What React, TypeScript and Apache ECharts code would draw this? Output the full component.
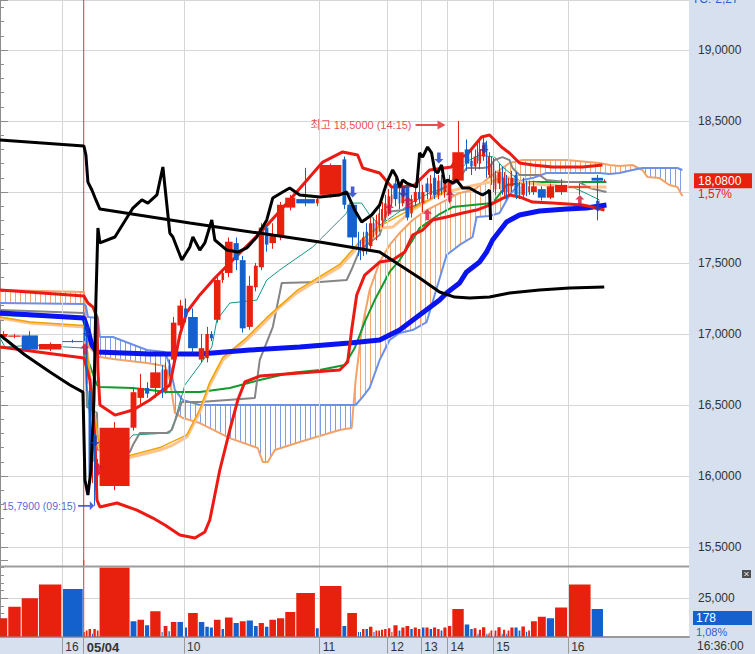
import React, { useEffect, useRef } from 'react';
import * as echarts from 'echarts';

// ---------- DATA ----------
// Equivolume candles: [volume (thousand shares), open, high, low, close]
const candles: number[][] = [
  [12, 16.98, 17.02, 16.96, 17.0], [19.5, 16.98, 17.0, 16.97, 16.99], [25, 16.99, 17.02, 16.88, 16.89],
  [34, 16.89, 16.94, 16.88, 16.93], [31, 16.95, 16.96, 16.94, 16.945],
  [3, 17.05, 17.1, 16.95, 16.97], [4, 16.97, 17.0, 16.6, 16.65], [5, 16.6, 16.62, 15.98, 16.0],
  [2, 16.05, 16.3, 15.95, 16.27], [5, 16.27, 16.3, 15.79, 16.1], [4, 16.0, 16.12, 15.85, 16.09],
  [45, 15.93, 16.38, 15.9, 16.34],
  [10, 16.34, 16.62, 16.32, 16.59], [11, 16.55, 16.72, 16.5, 16.62], [7.5, 16.62, 16.66, 16.55, 16.58],
  [16.5, 16.62, 16.8, 16.55, 16.73], [3, 16.75, 16.78, 16.55, 16.6], [7, 16.6, 16.8, 16.58, 16.75],
  [3.5, 16.78, 16.82, 16.7, 16.72], [9.5, 16.82, 17.12, 16.8, 17.08], [9.5, 17.06, 17.24, 17.04, 17.2],
  [6, 17.18, 17.25, 17.08, 17.12], [15.5, 17.12, 17.18, 16.87, 16.9], [9.5, 16.82, 17.0, 16.8, 16.9],
  [6.5, 16.83, 17.05, 16.8, 17.0], [6, 17.0, 17.02, 16.95, 16.97], [11, 17.1, 17.4, 17.08, 17.38],
  [5, 17.38, 17.45, 17.36, 17.43], [12.5, 17.43, 17.68, 17.4, 17.65], [9, 17.64, 17.68, 17.45, 17.52],
  [10, 17.52, 17.55, 17.01, 17.04], [10.5, 17.05, 17.41, 17.03, 17.34], [7, 17.33, 17.5, 17.3, 17.48],
  [9, 17.47, 17.78, 17.45, 17.75], [6.5, 17.75, 17.76, 17.58, 17.63], [11, 17.64, 17.78, 17.6, 17.69],
  [12, 17.69, 17.93, 17.66, 17.91], [16, 17.89, 17.98, 17.87, 17.96], [28.5, 17.95, 18.17, 17.9, 17.92],
  [5.5, 17.92, 17.97, 17.9, 17.95], [33, 17.98, 18.2, 17.96, 18.19], [7, 18.23, 18.25, 17.88, 17.91],
  [15.5, 17.91, 17.93, 17.61, 17.68],
  [3, 17.68, 17.72, 17.55, 17.62], [3, 17.62, 17.66, 17.52, 17.58], [5, 17.58, 17.72, 17.55, 17.68],
  [5, 17.72, 17.78, 17.56, 17.6], [6.5, 17.62, 17.82, 17.6, 17.78], [3, 17.78, 17.82, 17.68, 17.72],
  [4, 17.7, 17.84, 17.66, 17.8], [4, 17.76, 17.9, 17.72, 17.85], [4.5, 17.8, 17.93, 17.75, 17.88],
  [5, 17.82, 17.98, 17.8, 17.92], [5.5, 17.85, 18.02, 17.83, 17.97], [3, 17.92, 18.05, 17.9, 17.98],
  [7.5, 18.06, 18.1, 17.9, 17.95],
  [4, 18.0, 18.05, 17.88, 17.92], [6, 17.92, 18.06, 17.9, 18.02], [7, 18.04, 18.07, 17.8, 17.82],
  [5, 17.85, 17.98, 17.82, 17.95], [6, 17.93, 18.04, 17.9, 18.0], [5, 18.0, 18.1, 17.92, 17.95],
  [6, 17.92, 18.05, 17.86, 18.0], [6, 18.06, 18.1, 17.95, 18.0], [5, 17.98, 18.12, 17.95, 18.06],
  [6, 18.1, 18.2, 17.95, 17.98], [5, 17.98, 18.12, 17.95, 18.08], [4, 18.08, 18.12, 17.98, 18.0],
  [6, 18.0, 18.1, 17.96, 18.06], [7, 17.98, 18.12, 17.92, 18.08],
  [18, 18.08, 18.5, 18.06, 18.28], [8, 18.3, 18.37, 18.15, 18.2], [5, 18.22, 18.3, 18.12, 18.18],
  [5.5, 18.18, 18.3, 18.15, 18.25],
  [2, 18.28, 18.35, 18.2, 18.22], [4.6, 18.2, 18.36, 18.16, 18.3], [6.2, 18.25, 18.38, 18.22, 18.33],
  [2, 18.33, 18.36, 18.1, 18.2], [1.5, 18.15, 18.25, 18.12, 18.22], [2.6, 18.18, 18.28, 18.1, 18.24],
  [4, 18.1, 18.25, 18.05, 18.2], [2, 18.2, 18.24, 18.0, 18.05], [4, 18.02, 18.15, 17.98, 18.12],
  [6.2, 18.06, 18.2, 18.02, 18.14], [2, 18.14, 18.18, 17.98, 18.02], [4.6, 18.0, 18.14, 17.96, 18.1],
  [2, 18.1, 18.12, 17.95, 18.0], [4, 18.0, 18.1, 17.97, 18.06], [6, 18.04, 18.15, 18.0, 18.1],
  [6, 18.12, 18.14, 17.95, 17.98], [4, 18.04, 18.07, 17.95, 17.98], [6.6, 17.98, 18.1, 17.96, 18.06],
  [3.3, 18.06, 18.08, 17.97, 18.0], [4, 18.0, 18.08, 17.98, 18.04],
  [10, 18.0, 18.08, 17.98, 18.04], [13, 18.02, 18.04, 17.94, 17.96], [12, 17.96, 18.06, 17.95, 18.04],
  [19, 18.0, 18.09, 17.98, 18.05], [34, 18.03, 18.06, 17.98, 18.04], [18, 18.1, 18.12, 17.8, 18.08],
  [0.178, 18.08, 18.09, 18.07, 18.08],
];
// volume bar colour per candle: r = red, b = blue
const volumeSide =
  'rrrrb' + 'rrrbrr' + 'r' + 'brbrbrb' + 'rbb' + 'rbbb' + 'rbrb' + 'rbbrb' + 'rrrr' + 'brbr' +
  'bbrbrbrrrrrr' + 'r' + 'brrbrrbrbrrbrr' + 'rbbr' + 'brrbrrrbrrbrbrrbbrbr' + 'rrbrrbb';
// hour marks: [candle index where the hour starts, label]
const hourMarks: [number, string][] = [
  [4, '16'], [5, '05/04'], [21, '10'], [40, '11'], [53, '12'], [62, '13'], [69, '14'], [81, '15'], [98, '16'],
];
const sessionStart = 5; // candle index of the 05/04 session open
const buySignals: [number, number][] = [[5, 16.894], [10, 16.049], [53, 17.88], [58, 17.93], [63, 17.84], [69, 17.97], [98, 17.94]];
const sellSignals: [number, number][] = [[6, 17.014], [9, 16.246], [42, 18.0], [57, 18.0], [66, 18.239], [76, 18.31], [99, 17.9]];
const highMark = { idx: 70, price: 18.5, time: '14:15' };
const lowMark = { idx: 9, price: 15.79, time: '09:15' };
const lastPrice = 18.08;
const lastPct = '1,57%';
const volPct = '1,08%';
const clock = '16:36:00';
const topInfo = 'TC:-2,27';

// indicator lines: [cumulative volume (k), price]
const blackA = [[0, 18.366], [121.8, 18.324], [124.7, 18.26], [127.6, 18.07], [133.4, 18.014], [139.2, 17.944], [145, 17.88], [275.5, 17.782], [464, 17.648], [551, 17.577], [580, 17.486], [609, 17.394], [638, 17.296], [659.8, 17.26], [681.5, 17.253], [710.5, 17.26], [739.5, 17.289], [783, 17.31], [826.5, 17.324], [877, 17.331]];
const blackB = [[0, 16.993], [36.3, 16.852], [72.5, 16.732], [101.5, 16.641], [120.4, 16.591], [123.3, 15.972], [127.6, 15.866], [132, 16.042], [136.3, 16.535], [139.2, 17.239], [142.1, 17.746], [145, 17.641], [166.8, 17.683], [192.9, 17.887], [205.9, 17.944], [214.6, 17.922], [227.7, 17.979], [236.4, 18.176], [246.5, 17.711], [250.9, 17.683], [263.9, 17.521], [275.5, 17.613], [279.9, 17.683], [290, 17.591], [297.3, 17.641], [307.4, 17.803], [311.8, 17.662], [329.2, 17.591], [345.1, 17.577], [358.2, 17.606], [372.7, 17.683], [387.2, 17.803], [395.9, 17.958], [410.4, 18.0], [420.5, 18.028], [435, 17.979], [464, 17.965], [493, 17.979], [503.2, 18.0], [514.8, 17.873], [524.9, 17.789], [539.4, 17.838], [551, 17.908], [561.2, 18.063], [569.9, 18.155], [575.7, 18.106], [580, 18.035], [584.4, 18.084], [590.2, 18.063], [604.7, 18.035], [609, 18.275], [613.4, 18.246], [620.6, 18.317], [626.4, 18.275], [630.8, 18.155], [635.1, 18.134], [640.9, 18.19], [645.3, 18.063], [649.6, 18.084], [656.9, 18.063], [662.7, 18.084], [671.4, 18.028], [681.5, 18.028], [691.7, 18.0], [700.4, 17.979], [707.6, 18.0], [710.5, 18.014], [712, 17.803]];
const blueMA = [[0, 17.148], [121.8, 17.113], [127.6, 17.028], [133.4, 16.922], [140.7, 16.873], [217.5, 16.859], [290, 16.859], [362.5, 16.887], [435, 16.908], [507.5, 16.937], [551, 16.958], [580, 17.028], [609, 17.134], [638, 17.239], [648.2, 17.289], [667, 17.359], [677.2, 17.437], [696, 17.507], [706.2, 17.577], [714.9, 17.662], [735.2, 17.789], [754, 17.838], [783, 17.866], [822.2, 17.88], [851.2, 17.887], [880.2, 17.908]];
const upperBand = [[0, 17.31], [121.8, 17.267], [127.6, 17.218], [134.9, 17.19], [140.7, 17.12], [142.1, 16.746], [145, 16.5], [166.8, 16.429], [192.9, 16.465], [217.5, 16.535], [236.4, 16.606], [246.5, 16.641], [261, 16.993], [271.2, 17.155], [290, 17.275], [311.8, 17.394], [333.5, 17.5], [381.4, 17.732], [420.5, 17.944], [468.4, 18.211], [497.4, 18.282], [519.1, 18.26], [526.4, 18.169], [551, 18.134], [568.4, 18.035], [584.4, 18.035], [601.8, 18.049], [623.5, 18.155], [655.4, 18.176], [662.7, 18.239], [677.2, 18.26], [698.9, 18.387], [710.5, 18.401], [727.9, 18.317], [739.5, 18.275], [754, 18.204], [772.9, 18.19], [801.9, 18.176], [845.4, 18.176], [874.4, 18.19]];
const lowerBand = [[0, 16.908], [121.8, 16.831], [130.5, 16.676], [137.8, 16.275], [140.7, 15.831], [145, 15.782], [169.7, 15.81], [198.7, 15.76], [221.9, 15.704], [239.3, 15.655], [261, 15.584], [282.8, 15.563], [297.3, 15.606], [304.5, 15.69], [308.9, 15.796], [319, 16.042], [333.5, 16.324], [345.1, 16.535], [355.3, 16.662], [377, 16.704], [435, 16.725], [493, 16.746], [504.6, 16.803], [510.4, 17.028], [517.7, 17.275], [529.3, 17.415], [551, 17.507], [569.9, 17.521], [587.3, 17.577], [598.9, 17.697], [613.4, 17.732], [627.9, 17.803], [648.2, 17.824], [671.4, 17.852], [691.7, 17.873], [710.5, 17.908], [725, 17.944], [739.5, 17.979], [754, 17.965], [772.9, 17.929], [801.9, 17.922], [845.4, 17.908], [859.9, 17.894], [877.3, 17.873]];
const greyLine = [[0, 17.169], [121.8, 17.148], [124.7, 16.817], [126.2, 16.486], [140.7, 16.444], [142.1, 16.183], [188.5, 16.169], [192.9, 16.218], [203, 16.303], [242.2, 16.303], [249.4, 16.324], [263.9, 16.521], [290, 16.521], [369.8, 16.549], [377, 16.817], [395.9, 17.049], [406, 17.289], [408.9, 17.359], [464, 17.366], [503.2, 17.38], [511.9, 17.472], [522, 17.591], [551, 17.697], [561.2, 17.859], [584.4, 17.873], [597.4, 17.894], [623.5, 17.944], [638, 18.014], [662.7, 18.07], [677.2, 18.169], [700.4, 18.169], [710.5, 18.176], [717.8, 18.225], [729.4, 18.246], [739.5, 18.225], [743.9, 18.169], [754, 18.12], [783, 18.12], [793.2, 18.084], [822.2, 18.07], [841, 18.07], [855.5, 18.028], [880.2, 18.0]];
const greenLine = [[0, 17.134], [121.8, 17.113], [127.6, 16.817], [140.7, 16.641], [145, 16.627], [192.9, 16.62], [242.2, 16.591], [290, 16.591], [333.5, 16.62], [377, 16.676], [420.5, 16.725], [464, 16.746], [500.3, 16.782], [514.8, 16.901], [529.3, 17.084], [543.8, 17.239], [565.5, 17.437], [580, 17.521], [598.9, 17.662], [609, 17.746], [638, 17.845], [656.9, 17.894], [685.9, 17.908], [714.9, 17.922], [735.2, 18.049], [768.5, 18.07], [880.2, 18.07]];
const tealLine = [[0, 16.972], [7.3, 16.908], [47.9, 16.922], [121.8, 16.901], [130.5, 16.394], [140.7, 16.007], [152.3, 16.042], [174, 16.183], [192.9, 16.289], [246.5, 16.303], [253.8, 16.394], [268.3, 16.641], [290, 16.782], [307.4, 16.908], [314.7, 17.098], [333.5, 17.218], [372.7, 17.239], [387.2, 17.38], [406, 17.451], [453.9, 17.613], [468.4, 17.683], [493, 17.803], [503.2, 17.852], [507.5, 17.922], [524.9, 17.922], [536.5, 17.838], [551, 17.767], [572.8, 17.838], [598.9, 17.929], [623.5, 17.993], [648.2, 18.035], [667, 18.155], [681.5, 18.225], [696, 18.26], [717.8, 18.246], [729.4, 18.176], [758.4, 18.063], [801.9, 18.049], [830.9, 18.035], [855.5, 17.979], [870, 17.944]];
const peachLine = [[0, 17.113], [43.5, 17.077], [121.8, 17.049], [127.6, 16.817], [137.8, 16.394], [140.7, 16.275], [145, 16.183], [159.5, 16.134], [184.2, 16.127], [203, 16.148], [232, 16.183], [250.9, 16.218], [271.2, 16.275], [290, 16.451], [304.5, 16.641], [323.4, 16.817], [358.2, 16.958], [387.2, 17.098], [406, 17.19], [430.7, 17.289], [468.4, 17.401], [493, 17.472], [511.9, 17.57], [524.9, 17.648], [536.5, 17.662], [551, 17.746], [569.9, 17.753], [598.9, 17.873], [627.9, 17.958], [648.2, 18.0], [677.2, 18.035], [710.5, 18.07], [735.2, 18.106], [754, 18.07], [793.2, 18.049], [822.2, 18.035], [880.2, 18.035]];
const goldLine = [[0, 17.12], [43.5, 17.085], [121.8, 17.06], [127.6, 16.83], [137.8, 16.41], [145, 16.2], [184.2, 16.14], [232, 16.2], [271.2, 16.29], [290, 16.47], [304.5, 16.66], [323.4, 16.835], [358.2, 16.975], [387.2, 17.115], [430.7, 17.305], [493, 17.49], [524.9, 17.665], [551, 17.76], [598.9, 17.885], [648.2, 18.01]];
// Ichimoku cloud (leading spans) sampled on common positions
const cloudX = [0, 121.8, 124.7, 127.6, 142.1, 145, 163.9, 213.2, 239.3, 246.5, 253.8, 265.4, 290, 333.5, 374.1, 381.4, 388.6, 398.8, 435, 493, 510.4, 516.2, 524.9, 536.5, 551, 565.5, 580, 598.9, 619.2, 648.2, 667, 685.9, 691.7, 710.5, 725, 739.5, 758.4, 772.9, 793.2, 822.2, 870, 884.5, 899, 917.9, 932.4, 939.6, 957, 971.5, 983.1, 990.4];
const spanA = [17.31, 17.296, 17.098, 16.922, 16.838, 16.838, 16.824, 16.796, 16.775, 16.676, 16.444, 16.408, 16.373, 16.267, 16.197, 16.098, 16.098, 16.183, 16.239, 16.324, 16.338, 16.676, 17.028, 17.31, 17.507, 17.627, 17.711, 17.803, 17.873, 17.944, 17.993, 18.014, 18.028, 18.106, 18.155, 18.204, 18.225, 18.225, 18.225, 18.225, 18.204, 18.19, 18.183, 18.19, 18.155, 18.106, 18.098, 18.049, 18.035, 17.972];
const spanB = [17.218, 17.211, 17.197, 17.12, 17.113, 16.979, 16.979, 16.887, 16.873, 16.782, 16.606, 16.535, 16.5, 16.5, 16.5, 16.5, 16.5, 16.5, 16.5, 16.5, 16.5, 16.5, 16.549, 16.62, 16.817, 16.958, 17.007, 17.028, 17.084, 17.556, 17.627, 17.683, 17.824, 17.831, 17.852, 17.979, 18.084, 18.098, 18.134, 18.134, 18.134, 18.127, 18.134, 18.155, 18.169, 18.169, 18.169, 18.169, 18.169, 18.155];

// ---------- STYLE ----------
const RED = '#E8200E';
const BLUE = '#1460CC';
const GRID = '#D6D6D6';
const PANEL = '#D6E0EE';
const FONT = "'Liberation Sans', 'Noto Sans CJK KR', sans-serif";
const XMAX = 1000;
const PRICE_MIN = 15.3662;
const PRICE_MAX = 19.3521;
const VOL_MAX = 50000;

const fmtPrice = (v: number) => v.toFixed(4).replace('.', ',');

const starts: number[] = [];
{
  let acc = 0;
  candles.forEach((c) => { starts.push(acc); acc += c[0]; });
}
const center = (i: number) => starts[i] + candles[i][0] / 2;
const hourX = hourMarks.map((m) => starts[m[0]]);
const sessionX = starts[sessionStart];

function buildOption(): any {
  const line = (data: number[][], color: string, width: number, z: number, xi = 0, yi = 0) => ({
    type: 'line', xAxisIndex: xi, yAxisIndex: yi, data, symbol: 'none', showSymbol: false,
    lineStyle: { color, width }, z, silent: true, clip: true,
  });

  const candleSeries = {
    type: 'custom', xAxisIndex: 0, yAxisIndex: 0, z: 7, clip: true, silent: true,
    data: candles.map((c, i) => [starts[i], starts[i] + c[0], c[1], c[2], c[3], c[4]]),
    encode: { x: [0, 1], y: [2, 3, 4, 5] },
    renderItem: (params: any, api: any) => {
      const x0 = api.value(0), x1 = api.value(1);
      const o = api.value(2), h = api.value(3), l = api.value(4), c = api.value(5);
      const pO = api.coord([x0, o]);
      const pC = api.coord([x1, c]);
      const pH = api.coord([x0, h]);
      const pL = api.coord([x0, l]);
      const left = pO[0];
      const w = Math.max(1, pC[0] - pO[0] - 1);
      const top = Math.min(pO[1], pC[1]);
      const bh = Math.max(1, Math.abs(pO[1] - pC[1]));
      const cx = Math.floor(left + w / 2) + 0.5;
      const color = c >= o ? RED : BLUE;
      return {
        type: 'group',
        children: [
          { type: 'line', shape: { x1: cx, y1: pH[1], x2: cx, y2: pL[1] }, style: { stroke: color, lineWidth: 1 } },
          { type: 'rect', shape: { x: left, y: top, width: w, height: bh }, style: { fill: color } },
        ],
      };
    },
  };

  const hatchSeries = {
    type: 'custom', xAxisIndex: 0, yAxisIndex: 0, z: 2, clip: true, silent: true,
    data: cloudX.map((x, i) => [x, spanA[i], spanB[i]]),
    encode: { x: 0, y: [1, 2] },
    renderItem: (params: any, api: any) => {
      const i = params.dataIndex;
      const children: any[] = [];
      if (i < cloudX.length - 1) {
        const a0 = api.coord([cloudX[i], spanA[i]]);
        const a1 = api.coord([cloudX[i + 1], spanA[i + 1]]);
        const b0 = api.coord([cloudX[i], spanB[i]]);
        const b1 = api.coord([cloudX[i + 1], spanB[i + 1]]);
        const step = 5;
        const span = a1[0] - a0[0];
        for (let x = Math.ceil(a0[0] / step) * step; x < a1[0]; x += step) {
          const t = span > 0 ? (x - a0[0]) / span : 0;
          const ya = a0[1] + (a1[1] - a0[1]) * t;
          const yb = b0[1] + (b1[1] - b0[1]) * t;
          children.push({
            type: 'line', shape: { x1: x + 0.5, y1: ya, x2: x + 0.5, y2: yb },
            style: { stroke: ya < yb ? '#F6A870' : '#7E9DEB', lineWidth: 1 },
          });
        }
      }
      return { type: 'group', children };
    },
  };

  const volumeSeries = {
    type: 'custom', xAxisIndex: 2, yAxisIndex: 2, z: 3, clip: true, silent: true,
    data: candles.map((c, i) => [starts[i], starts[i] + c[0], c[0] * 1000]),
    encode: { x: [0, 1], y: 2 },
    renderItem: (params: any, api: any) => {
      const i = params.dataIndex;
      const p0 = api.coord([api.value(0), api.value(2)]);
      const p1 = api.coord([api.value(1), 0]);
      const w = Math.max(1, p1[0] - p0[0] - 1);
      return {
        type: 'rect', shape: { x: p0[0], y: p0[1], width: w, height: p1[1] - p0[1] },
        style: { fill: volumeSide[i] === 'r' ? RED : BLUE },
      };
    },
  };

  const arrowUp = 'path://M5,0 L10,5 L7,5 L7,12 L3,12 L3,5 L0,5 Z';
  const arrowRight = 'path://M0,4 L22,4 L22,0 L30,5 L22,10 L22,6 L0,6 Z';

  const gridLines = hourMarks
    .map((m, j) => ({ m, x: hourX[j] }))
    .filter((d) => d.m[0] !== sessionStart)
    .map((d) => ({ xAxis: d.x }));

  const markLines = (data: any[], color: string) => ({
    silent: true, symbol: ['none', 'none'], animation: false,
    label: { show: false },
    lineStyle: { color, width: 1, type: 'solid', opacity: 1 },
    emphasis: { disabled: true },
    data,
  });

  const helper = (xi: number, yi: number, y: number, ml: any, z: number) => ({
    type: 'line', xAxisIndex: xi, yAxisIndex: yi, data: [[0, y]], symbol: 'none', z,
    lineStyle: { width: 0 }, silent: true, markLine: ml,
  });

  const priceLabel = {
    type: 'line', xAxisIndex: 0, yAxisIndex: 0, data: [[0, lastPrice]], symbol: 'none', z: 9,
    lineStyle: { width: 0 }, silent: true,
    markLine: {
      silent: true, symbol: ['none', 'none'], animation: false,
      lineStyle: { color: 'rgba(0,0,0,0)', width: 1, type: 'solid' },
      label: {
        show: true, position: 'end', distance: 5,
        formatter: '{c| }\n{a|' + fmtPrice(lastPrice) + '}\n{b|' + lastPct + '}',
        rich: {
          c: { fontSize: 12, lineHeight: 12, height: 12 },
          a: { backgroundColor: RED, color: '#fff', fontSize: 12, fontFamily: FONT, padding: [2, 4, 1, 4], width: 50, lineHeight: 15 },
          b: { color: RED, fontSize: 12, fontFamily: FONT, padding: [0, 0, 0, 4], lineHeight: 12, height: 12 },
        },
      },
      data: [{ yAxis: lastPrice }],
    },
  };

  const series: any[] = [
    helper(0, 0, 17, markLines(gridLines, GRID), 1),
    line([[sessionX, PRICE_MIN], [sessionX, PRICE_MAX]], '#E83030', 1, 1),
    hatchSeries,
    line(cloudX.map((x, i) => [x, spanA[i]]), '#F4A268', 2, 3),
    line(cloudX.map((x, i) => [x, spanB[i]]), '#6C8FE8', 2, 3),
    line(tealLine, '#0E9A84', 1, 4),
    line(greenLine, '#119A2E', 2, 4),
    line(greyLine, '#858585', 2, 4),
    line(peachLine, '#FFC48E', 3, 4),
    line(goldLine, '#F0A400', 1.5, 4),
    line(blueMA, '#0A14F0', 5, 5),
    line(upperBand, '#EC1A12', 3, 6),
    line(lowerBand, '#EC1A12', 3, 6),
    candleSeries,
    line(blackA, '#000000', 3, 8),
    line(blackB, '#000000', 3, 8),
    {
      type: 'scatter', xAxisIndex: 0, yAxisIndex: 0, z: 9, silent: true,
      symbol: arrowUp, symbolSize: [9, 11], itemStyle: { color: '#D8123C' },
      data: buySignals.map((s) => [center(s[0]), s[1]]),
    },
    {
      type: 'scatter', xAxisIndex: 0, yAxisIndex: 0, z: 9, silent: true,
      symbol: arrowUp, symbolRotate: 180, symbolSize: [9, 11], itemStyle: { color: '#1638C0' },
      data: sellSignals.map((s) => [center(s[0]), s[1]]),
    },
    {
      type: 'scatter', xAxisIndex: 0, yAxisIndex: 0, z: 9, silent: true,
      symbol: arrowRight, symbolSize: [30, 9], symbolOffset: [-28, 4], itemStyle: { color: '#E02020' },
      data: [[center(highMark.idx), highMark.price]],
      label: {
        show: true, position: 'left', distance: 4, color: '#E02020', fontSize: 11, fontFamily: FONT,
        formatter: '최고 ' + fmtPrice(highMark.price) + ' (' + highMark.time + ')',
      },
    },
    {
      type: 'scatter', xAxisIndex: 0, yAxisIndex: 0, z: 9, silent: true,
      symbol: arrowRight, symbolSize: [16, 9], symbolOffset: [-9, 0], itemStyle: { color: '#1E3CD8' },
      data: [[center(lowMark.idx), lowMark.price]],
      label: {
        show: true, position: 'left', distance: 2, color: '#1E3CD8', fontSize: 10.5, fontFamily: FONT,
        formatter: fmtPrice(lowMark.price) + ' (' + lowMark.time + ')',
      },
    },
    priceLabel,
    helper(2, 2, 0, markLines(gridLines, GRID), 1),
    line([[sessionX, 0], [sessionX, VOL_MAX]], '#E83030', 1, 1, 2, 2),
    volumeSeries,
  ];

  const hourLabel = (v: number) => {
    const j = hourX.findIndex((x) => Math.abs(x - v) < 1e-6);
    if (j < 0) return '';
    const t = hourMarks[j][1];
    return t.indexOf('/') >= 0 ? '{b|' + t + '}' : t;
  };

  // axis labels are hidden where the current-price tag sits
  const priceAxisLabel = (v: number) => {
    if (Math.abs(v * 2 - Math.round(v * 2)) > 1e-6) return '';
    if (Math.abs(v - lastPrice) < 0.15) return '';
    return fmtPrice(v);
  };

  return {
    animation: false,
    textStyle: { fontFamily: FONT },
    grid: [
      { left: 0, right: 66, top: 0, height: 566 },
      { left: 0, right: 66, top: 0, height: 547 },
      { left: 0, right: 66, top: 559.9, height: 76.8 },
    ],
    xAxis: [
      { type: 'value', gridIndex: 0, min: 0, max: XMAX, show: false },
      { type: 'value', gridIndex: 1, min: 0, max: XMAX, show: false },
      {
        type: 'value', gridIndex: 2, min: 0, max: XMAX,
        axisLine: { show: true, lineStyle: { color: '#9A9A9A', width: 2 } },
        axisTick: { show: true, customValues: hourX, length: 17, lineStyle: { color: '#9A9A9A' } },
        axisLabel: {
          show: true, customValues: hourX, formatter: hourLabel, align: 'left', margin: 4,
          padding: [0, 0, 0, 3], color: '#333', fontSize: 12,
          rich: { b: { fontWeight: 'bold', fontSize: 13, color: '#333' } },
        },
        splitLine: { show: false },
      },
    ],
    yAxis: [
      {
        type: 'value', gridIndex: 0, position: 'right', min: PRICE_MIN, max: PRICE_MAX,
        axisLine: { show: true, lineStyle: { color: '#8C8C8C', width: 2 } },
        axisTick: { show: false }, axisLabel: { show: false }, splitLine: { show: false },
      },
      {
        type: 'value', gridIndex: 1, position: 'right', min: 15.5, max: PRICE_MAX, interval: 0.5,
        axisLine: { show: false },
        axisTick: { show: true, length: 8, lineStyle: { color: '#8C8C8C' } },
        minorTick: { show: true, splitNumber: 5, length: 4, lineStyle: { color: '#8C8C8C' } },
        axisLabel: { show: true, margin: 9, color: '#333', fontSize: 12, showMaxLabel: false, formatter: priceAxisLabel },
        splitLine: { show: true, lineStyle: { color: GRID, width: 1 } },
      },
      {
        type: 'value', gridIndex: 2, position: 'right', min: 0, max: VOL_MAX, interval: 25000,
        axisLine: { show: true, lineStyle: { color: '#8C8C8C', width: 2 } },
        axisTick: { show: true, length: 8, lineStyle: { color: '#8C8C8C' } },
        minorTick: { show: true, splitNumber: 5, length: 4, lineStyle: { color: '#8C8C8C' } },
        axisLabel: {
          show: true, margin: 9, color: '#333', fontSize: 12,
          formatter: (v: number) => (v === 25000 ? v.toLocaleString('en-US') : ''),
        },
        splitLine: { show: true, lineStyle: { color: ['transparent', GRID, 'transparent'], width: 1 } },
      },
    ],
    graphic: [
      { type: 'rect', z: -10, silent: true, shape: { x: 689, y: 0, width: 66, height: 654 }, style: { fill: PANEL } },
      { type: 'rect', z: -10, silent: true, shape: { x: 0, y: 637, width: 689, height: 17 }, style: { fill: PANEL } },
      { type: 'rect', z: 100, silent: true, shape: { x: 0, y: 565.5, width: 689, height: 2 }, style: { fill: '#9C9C9C' } },
      { type: 'text', z: 100, silent: true, x: 692, y: -7, style: { text: topInfo, fill: '#2A62D0', font: '12px ' + FONT } },
      { type: 'rect', z: 100, silent: true, shape: { x: 693, y: 611, width: 59, height: 14 }, style: { fill: BLUE } },
      { type: 'text', z: 101, silent: true, x: 696, y: 612, style: { text: String(Math.round(candles[candles.length - 1][0] * 1000)), fill: '#fff', font: '12px ' + FONT } },
      { type: 'text', z: 100, silent: true, x: 696, y: 626, style: { text: volPct, fill: '#2A62D0', font: '11px ' + FONT } },
      { type: 'text', z: 100, silent: true, x: 697, y: 640, style: { text: clock, fill: '#333', font: '12px ' + FONT } },
      { type: 'rect', z: 100, silent: true, shape: { x: 742, y: 570, width: 9, height: 8 }, style: { fill: '#505050' } },
      { type: 'line', z: 101, silent: true, shape: { x1: 744.5, y1: 572, x2: 748.5, y2: 576 }, style: { stroke: '#fff', lineWidth: 1 } },
      { type: 'line', z: 101, silent: true, shape: { x1: 748.5, y1: 572, x2: 744.5, y2: 576 }, style: { stroke: '#fff', lineWidth: 1 } },
    ],
    series,
  };
}

export default function App() {
  const ref = useRef<HTMLDivElement>(null);
  useEffect(() => {
    document.body.style.margin = '0';
    const chart = echarts.init(ref.current as HTMLDivElement, null, { renderer: 'svg' });
    chart.setOption(buildOption());
    return () => chart.dispose();
  }, []);
  return <div ref={ref} style={{ width: 755, height: 654 }} />;
}
